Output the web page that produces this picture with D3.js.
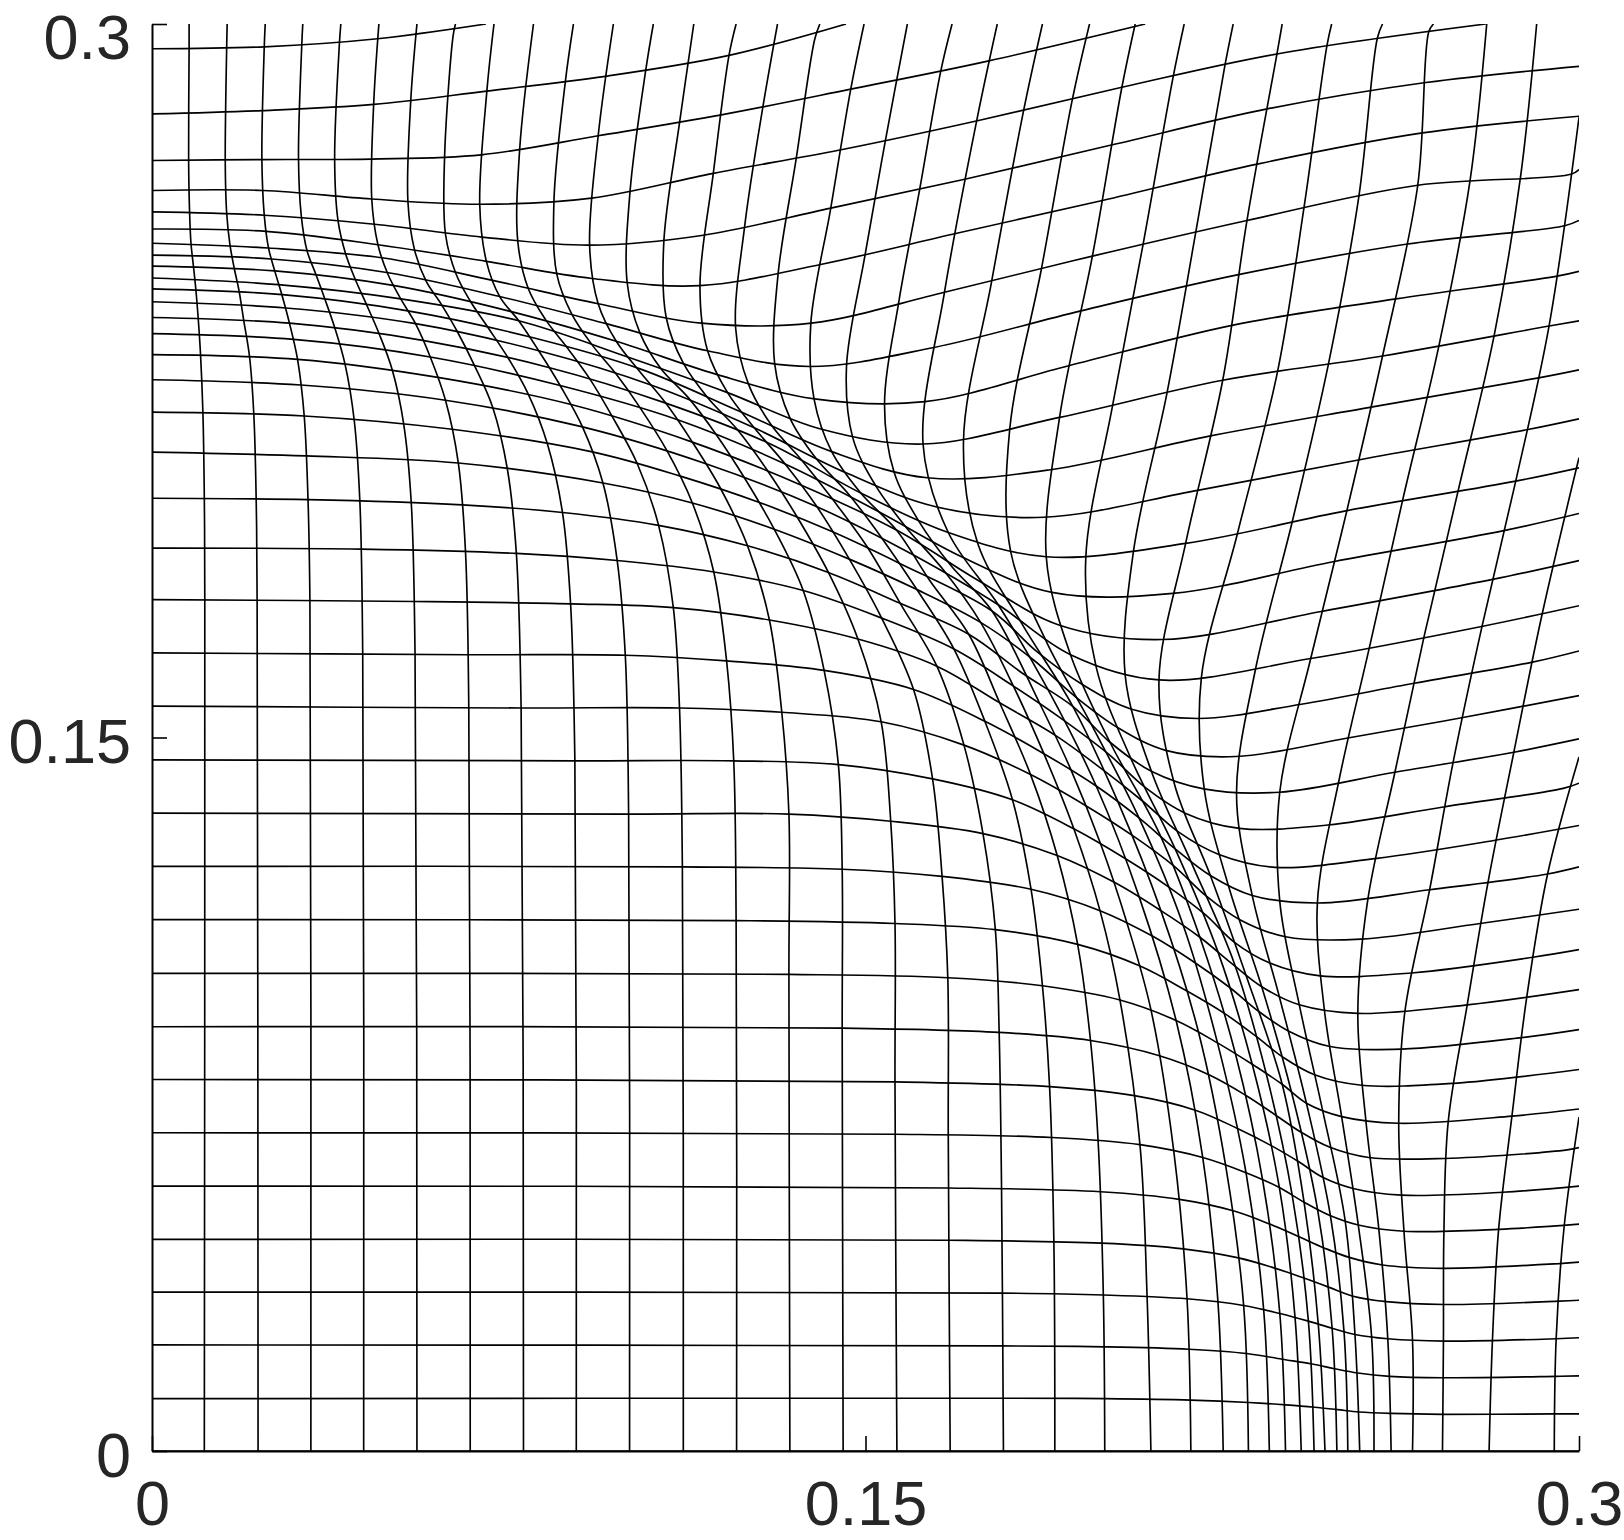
<!DOCTYPE html>
<html>
<head>
<meta charset="utf-8">
<script src="https://cdn.jsdelivr.net/npm/d3@7"></script>
<style>
  html, body { margin: 0; padding: 0; background: #fff; }
  svg { display: block; }
</style>
</head>
<body>
<div id="chart"></div>
<script>
// axis ticks
const xTicks = [0, 0.15, 0.3];
const yTicks = [0, 0.15, 0.3];
const tickLabels = ['0', '0.15', '0.3'];

// mesh lines, each one bottom to top as [x, y]
// the mesh is symmetric about y = x, so line k across = line k up, mirrored
const gridLinesA = [
  [[0,0],[0,0.3]],
  [[0.0110,0],[0.0111,0.1786],[0.0110,0.2003],[0.0107,0.2184],[0.0102,0.2306],[0.0097,0.2383],[0.0092,0.2444],[0.0087,0.2492],[0.0082,0.2538],[0.0079,0.2605],[0.0077,0.2713],[0.0078,0.2948],[0.0078,0.3]],
  [[0.0223,0],[0.0221,0.1786],[0.0219,0.2002],[0.0214,0.2180],[0.0205,0.2301],[0.0193,0.2376],[0.0183,0.2439],[0.0173,0.2486],[0.0164,0.2535],[0.0157,0.2602],[0.0154,0.2713],[0.0157,0.2952],[0.0158,0.3]],
  [[0.0334,0],[0.0332,0.1786],[0.0328,0.2000],[0.0320,0.2176],[0.0306,0.2295],[0.0289,0.2371],[0.0273,0.2431],[0.0258,0.2481],[0.0245,0.2529],[0.0236,0.2598],[0.0231,0.2717],[0.0236,0.2952],[0.0238,0.3]],
  [[0.0445,0],[0.0443,0.1674],[0.0437,0.1996],[0.0425,0.2168],[0.0406,0.2284],[0.0384,0.2362],[0.0363,0.2423],[0.0344,0.2475],[0.0326,0.2523],[0.0314,0.2595],[0.0308,0.2717],[0.0315,0.2959],[0.0317,0.3]],
  [[0.0557,0],[0.0553,0.1674],[0.0545,0.1994],[0.0529,0.2160],[0.0505,0.2273],[0.0477,0.2350],[0.0451,0.2410],[0.0427,0.2464],[0.0407,0.2517],[0.0391,0.2587],[0.0384,0.2714],[0.0394,0.2959],[0.0397,0.3]],
  [[0.0669,0],[0.0666,0.1562],[0.0659,0.1892],[0.0644,0.2077],[0.0617,0.2209],[0.0585,0.2300],[0.0554,0.2370],[0.0523,0.2422],[0.0496,0.2474],[0.0475,0.2536],[0.0462,0.2632],[0.0466,0.2831],[0.0477,0.3]],
  [[0.0781,0],[0.0776,0.1562],[0.0766,0.1887],[0.0747,0.2065],[0.0716,0.2195],[0.0678,0.2282],[0.0642,0.2353],[0.0608,0.2411],[0.0576,0.2460],[0.0552,0.2525],[0.0538,0.2627],[0.0544,0.2839],[0.0557,0.3]],
  [[0.0892,0],[0.0889,0.1451],[0.0880,0.1781],[0.0863,0.1973],[0.0831,0.2118],[0.0791,0.2222],[0.0748,0.2299],[0.0707,0.2361],[0.0670,0.2416],[0.0639,0.2475],[0.0617,0.2558],[0.0615,0.2717],[0.0633,0.2975],[0.0638,0.3]],
  [[0.1004,0],[0.1002,0.1339],[0.0995,0.1673],[0.0978,0.1872],[0.0948,0.2035],[0.0905,0.2153],[0.0858,0.2240],[0.0813,0.2313],[0.0771,0.2376],[0.0731,0.2427],[0.0703,0.2501],[0.0689,0.2621],[0.0704,0.2859],[0.0719,0.3]]
];

const gridLinesB = [
  [[0.1117,0],[0.1115,0.1228],[0.1109,0.1562],[0.1096,0.1773],[0.1065,0.1946],[0.1020,0.2076],[0.0968,0.2174],[0.0919,0.2256],[0.0871,0.2322],[0.0827,0.2379],[0.0791,0.2444],[0.0769,0.2543],[0.0773,0.2737],[0.0802,0.3]],
  [[0.1229,0],[0.1228,0.1115],[0.1223,0.1451],[0.1208,0.1661],[0.1181,0.1848],[0.1136,0.1993],[0.1082,0.2104],[0.1027,0.2192],[0.0975,0.2265],[0.0924,0.2327],[0.0882,0.2391],[0.0851,0.2474],[0.0845,0.2627],[0.0869,0.2879],[0.0886,0.3]],
  [[0.1341,0],[0.1339,0.1002],[0.1339,0.1339],[0.1324,0.1553],[0.1298,0.1747],[0.1252,0.1903],[0.1195,0.2024],[0.1136,0.2121],[0.1080,0.2203],[0.1024,0.2271],[0.0976,0.2333],[0.0938,0.2412],[0.0920,0.2535],[0.0938,0.2765],[0.0970,0.3]],
  [[0.1453,0],[0.1451,0.0889],[0.1451,0.1223],[0.1443,0.1443],[0.1413,0.1641],[0.1369,0.1809],[0.1308,0.1938],[0.1246,0.2045],[0.1186,0.2137],[0.1127,0.2215],[0.1070,0.2275],[0.1026,0.2350],[0.0999,0.2456],[0.1005,0.2648],[0.1038,0.2903],[0.1054,0.3]],
  [[0.1566,0],[0.1562,0.0776],[0.1562,0.1109],[0.1553,0.1324],[0.1533,0.1533],[0.1484,0.1707],[0.1422,0.1847],[0.1356,0.1964],[0.1292,0.2064],[0.1230,0.2148],[0.1167,0.2216],[0.1117,0.2287],[0.1081,0.2383],[0.1076,0.2542],[0.1109,0.2792],[0.1139,0.3]],
  [[0.1678,0],[0.1674,0.0664],[0.1673,0.0995],[0.1661,0.1208],[0.1641,0.1413],[0.1601,0.1601],[0.1534,0.1751],[0.1466,0.1875],[0.1398,0.1985],[0.1331,0.2075],[0.1266,0.2151],[0.1210,0.2225],[0.1168,0.2313],[0.1152,0.2450],[0.1180,0.2686],[0.1213,0.2934],[0.1228,0.3]],
  [[0.1790,0],[0.1786,0.0552],[0.1781,0.0880],[0.1773,0.1096],[0.1747,0.1298],[0.1707,0.1484],[0.1650,0.1650],[0.1573,0.1782],[0.1504,0.1900],[0.1433,0.1998],[0.1366,0.2083],[0.1302,0.2157],[0.1254,0.2243],[0.1227,0.2361],[0.1246,0.2575],[0.1284,0.2824],[0.1315,0.3]],
  [[0.1898,0],[0.1896,0.0440],[0.1887,0.0766],[0.1872,0.0978],[0.1848,0.1181],[0.1809,0.1369],[0.1751,0.1534],[0.1686,0.1686],[0.1608,0.1811],[0.1536,0.1917],[0.1465,0.2011],[0.1395,0.2088],[0.1341,0.2172],[0.1309,0.2286],[0.1316,0.2472],[0.1354,0.2715],[0.1393,0.2967],[0.1404,0.3]],
  [[0.2003,0],[0.2000,0.0328],[0.1989,0.0652],[0.1973,0.0863],[0.1946,0.1065],[0.1903,0.1252],[0.1847,0.1422],[0.1782,0.1573],[0.1717,0.1717],[0.1635,0.1830],[0.1566,0.1935],[0.1490,0.2014],[0.1429,0.2101],[0.1392,0.2211],[0.1385,0.2370],[0.1427,0.2613],[0.1469,0.2863],[0.1497,0.3]]
];

const gridLinesC = [
  [[0.2100,0],[0.2092,0.0324],[0.2077,0.0644],[0.2035,0.0948],[0.1993,0.1136],[0.1938,0.1308],[0.1875,0.1466],[0.1811,0.1608],[0.1742,0.1742],[0.1664,0.1852],[0.1586,0.1941],[0.1521,0.2030],[0.1473,0.2131],[0.1460,0.2279],[0.1499,0.2514],[0.1542,0.2756],[0.1588,0.3]],
  [[0.2184,0],[0.2176,0.0320],[0.2148,0.0631],[0.2100,0.0928],[0.2050,0.1109],[0.1994,0.1277],[0.1932,0.1432],[0.1866,0.1572],[0.1766,0.1766],[0.1680,0.1861],[0.1612,0.1955],[0.1560,0.2058],[0.1540,0.2199],[0.1570,0.2416],[0.1614,0.2653],[0.1658,0.2900],[0.1682,0.3]],
  [[0.2252,0],[0.2241,0.0313],[0.2209,0.0617],[0.2153,0.0905],[0.2075,0.1166],[0.1985,0.1398],[0.1884,0.1600],[0.1779,0.1779],[0.1674,0.1931],[0.1621,0.2117],[0.1666,0.2436],[0.1734,0.2798],[0.1777,0.3]],
  [[0.2305,0],[0.2295,0.0306],[0.2257,0.0601],[0.2200,0.0881],[0.2121,0.1136],[0.2031,0.1364],[0.1935,0.1567],[0.1829,0.1739],[0.1736,0.1908],[0.1706,0.2124],[0.1765,0.2458],[0.1833,0.2821],[0.1872,0.3]],
  [[0.2349,0],[0.2337,0.0298],[0.2300,0.0585],[0.2240,0.0858],[0.2167,0.1108],[0.2075,0.1331],[0.1975,0.1527],[0.1879,0.1704],[0.1805,0.1892],[0.1803,0.2146],[0.1870,0.2486],[0.1935,0.2842],[0.1971,0.3]],
  [[0.2383,0],[0.2371,0.0289],[0.2335,0.0569],[0.2278,0.0834],[0.2203,0.1080],[0.2117,0.1300],[0.2014,0.1490],[0.1931,0.1674],[0.1880,0.1880],[0.1908,0.2173],[0.1977,0.2512],[0.2039,0.2867],[0.2067,0.3]],
  [[0.2416,0],[0.2403,0.0281],[0.2370,0.0554],[0.2313,0.0813],[0.2240,0.1052],[0.2151,0.1266],[0.2057,0.1458],[0.1985,0.1648],[0.1963,0.1875],[0.2020,0.2201],[0.2084,0.2539],[0.2147,0.2890],[0.2170,0.3]],
  [[0.2443,0],[0.2431,0.0274],[0.2397,0.0538],[0.2343,0.0791],[0.2275,0.1026],[0.2186,0.1235],[0.2101,0.1429],[0.2046,0.1630],[0.2063,0.1889],[0.2134,0.2225],[0.2195,0.2566],[0.2256,0.2915],[0.2273,0.3]],
  [[0.2466,0],[0.2452,0.0265],[0.2422,0.0523],[0.2376,0.0771],[0.2301,0.0997],[0.2225,0.1210],[0.2149,0.1404],[0.2117,0.1621],[0.2173,0.1908],[0.2251,0.2251],[0.2302,0.2587],[0.2365,0.2937],[0.2376,0.3]]
];

const gridLinesD = [
  [[0.2491,0],[0.2481,0.0258],[0.2450,0.0510],[0.2397,0.0749],[0.2333,0.0976],[0.2264,0.1185],[0.2212,0.1393],[0.2206,0.1625],[0.2282,0.1929],[0.2367,0.2273],[0.2422,0.2615],[0.2470,0.2954],[0.2480,0.3]],
  [[0.2514,0],[0.2506,0.0251],[0.2477,0.0497],[0.2427,0.0731],[0.2370,0.0955],[0.2313,0.1168],[0.2280,0.1383],[0.2320,0.1644],[0.2397,0.1953],[0.2473,0.2284],[0.2537,0.2636],[0.2576,0.2970],[0.2587,0.3]],
  [[0.2539,0],[0.2529,0.0245],[0.2508,0.0487],[0.2461,0.0716],[0.2412,0.0938],[0.2371,0.1155],[0.2371,0.1386],[0.2436,0.1666],[0.2512,0.1977],[0.2587,0.2302],[0.2661,0.2661],[0.2684,0.2983],[0.2694,0.3]],
  [[0.2569,0],[0.2564,0.0240],[0.2536,0.0475],[0.2501,0.0703],[0.2465,0.0925],[0.2450,0.1152],[0.2495,0.1408],[0.2560,0.1692],[0.2629,0.1998],[0.2706,0.2326],[0.2771,0.2671],[0.2806,0.3]],
  [[0.2605,0],[0.2598,0.0236],[0.2579,0.0468],[0.2552,0.0694],[0.2535,0.0920],[0.2556,0.1159],[0.2613,0.1427],[0.2674,0.1711],[0.2746,0.2019],[0.2822,0.2347],[0.2877,0.2678],[0.2911,0.3]],
  [[0.2650,0],[0.2650,0.0233],[0.2632,0.0462],[0.2621,0.0689],[0.2634,0.0924],[0.2686,0.1180],[0.2735,0.1446],[0.2796,0.1733],[0.2867,0.2039],[0.2937,0.2365],[0.3000,0.2804]],
  [[0.2713,0],[0.2715,0.0231],[0.2716,0.0461],[0.2725,0.0692],[0.2765,0.0938],[0.2809,0.1197],[0.2863,0.1469],[0.2922,0.1757],[0.3000,0.2088]],
  [[0.2811,0],[0.2818,0.0232],[0.2831,0.0466],[0.2859,0.0704],[0.2890,0.0953],[0.2934,0.1213],[0.3000,0.1459]],
  [[0.2948,0],[0.2952,0.0236],[0.2969,0.0474],[0.3000,0.0702]]
];

const gridLines = [].concat(gridLinesA, gridLinesB, gridLinesC, gridLinesD);

const width = 1624, height = 1540;
const margin = {top: 24, left: 152, right: 45, bottom: 89};

const svg = d3.select('#chart')
  .append('svg')
    .attr('width', width)
    .attr('height', height)
    .style('background-color', '#fff');

const xScale = d3.scaleLinear()
  .domain([0, 0.3])
  .range([margin.left, width - margin.right]);

const yScale = d3.scaleLinear()
  .domain([0, 0.3])
  .range([height - margin.bottom, margin.top]);

// keep the mesh inside the axes box
svg.append('clipPath')
    .attr('id', 'plot-clip')
  .append('rect')
    .attr('x', xScale(0))
    .attr('y', yScale(0.3))
    .attr('width', xScale(0.3) - xScale(0))
    .attr('height', yScale(0) - yScale(0.3));

const mesh = svg.append('g')
  .attr('clip-path', 'url(#plot-clip)')
  .style('fill', 'none')
  .style('stroke', '#000')
  .style('stroke-width', 1.65);

// lines going up
const upLine = d3.line()
  .x(d => xScale(d[0]))
  .y(d => yScale(d[1]))
  .curve(d3.curveCatmullRom.alpha(0.5));

// lines going across (mirror image of the ones going up)
const acrossLine = d3.line()
  .x(d => xScale(d[1]))
  .y(d => yScale(d[0]))
  .curve(d3.curveCatmullRom.alpha(0.5));

mesh.selectAll('path.up')
  .data(gridLines)
  .join('path')
    .attr('class', 'up')
    .attr('d', upLine);

mesh.selectAll('path.across')
  .data(gridLines)
  .join('path')
    .attr('class', 'across')
    .attr('d', acrossLine);

// axes, ticks pointing inward
const xAxis = d3.axisBottom(xScale)
  .tickValues(xTicks)
  .tickFormat(d => tickLabels[xTicks.indexOf(d)])
  .tickSizeInner(-15)
  .tickSizeOuter(0)
  .tickPadding(30);

const yAxis = d3.axisLeft(yScale)
  .tickValues(yTicks)
  .tickFormat(d => tickLabels[yTicks.indexOf(d)])
  .tickSizeInner(-15)
  .tickSizeOuter(0)
  .tickPadding(21);

const gx = svg.append('g')
  .attr('transform', 'translate(0,' + yScale(0) + ')')
  .call(xAxis);

const gy = svg.append('g')
  .attr('transform', 'translate(' + xScale(0) + ',0)')
  .call(yAxis);

[gx, gy].forEach(g => {
  g.select('.domain').style('stroke', '#000').style('stroke-width', 2);
  g.selectAll('.tick line').style('stroke', '#000').style('stroke-width', 1.6);
  g.selectAll('.tick text')
    .style('font-family', '"Liberation Sans", Arial, Helvetica, sans-serif')
    .style('font-size', '63px')
    .style('fill', '#262626');
});

gy.selectAll('.tick text').attr('dy', d => d === 0.3 ? '0.54em' : '0.4em');
gx.selectAll('.tick text').attr('dy', '0.7em');
</script>
</body>
</html>
